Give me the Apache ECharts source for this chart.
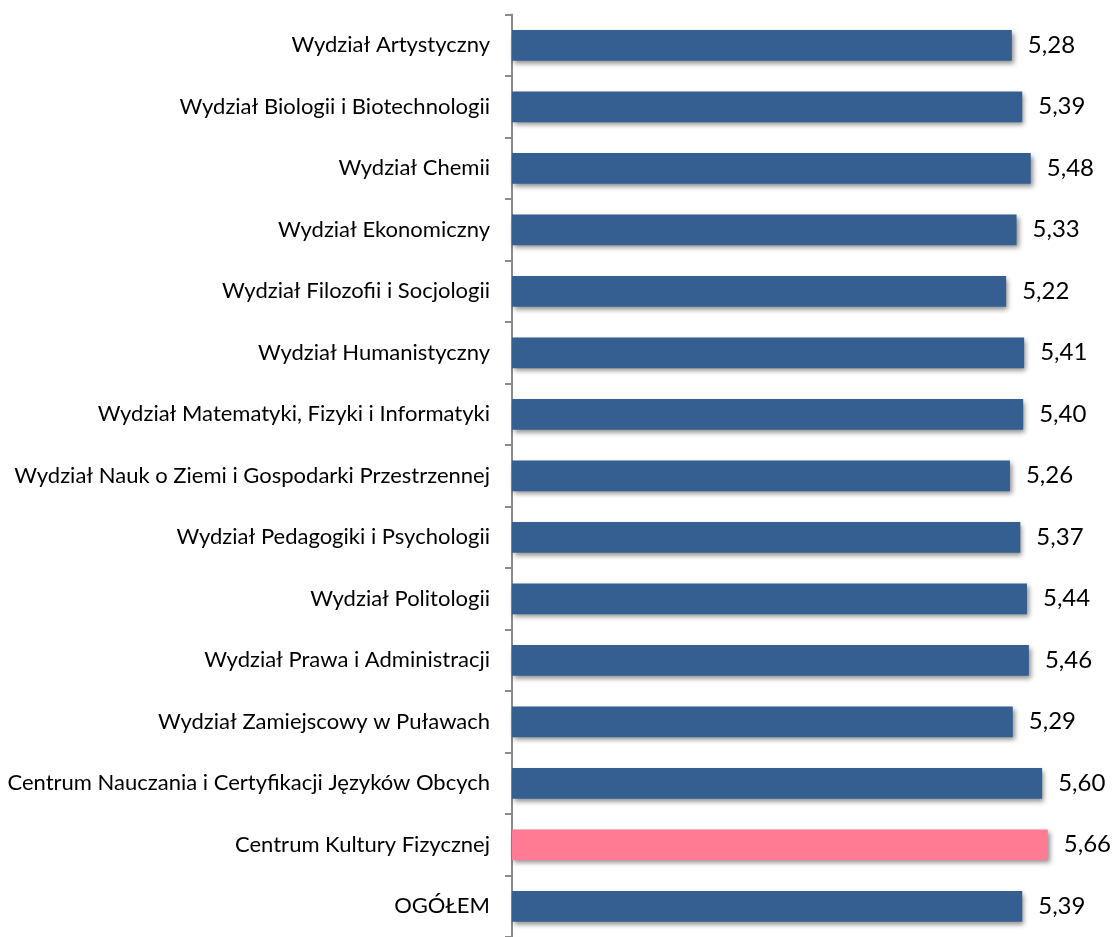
<!DOCTYPE html>
<html><head><meta charset="utf-8">
<script src="https://cdn.jsdelivr.net/npm/echarts@6/dist/echarts.min.js"></script>
<style>html,body{margin:0;padding:0;background:#fff}#c{width:1112px;height:937px}</style>
</head><body><div id="c"></div>
<script>
const categories = [
  "Wydział Artystyczny",
  "Wydział Biologii i Biotechnologii",
  "Wydział Chemii",
  "Wydział Ekonomiczny",
  "Wydział Filozofii i Socjologii",
  "Wydział Humanistyczny",
  "Wydział Matematyki, Fizyki i Informatyki",
  "Wydział Nauk o Ziemi i Gospodarki Przestrzennej",
  "Wydział Pedagogiki i Psychologii",
  "Wydział Politologii",
  "Wydział Prawa i Administracji",
  "Wydział Zamiejscowy w Puławach",
  "Centrum Nauczania i Certyfikacji Języków Obcych",
  "Centrum Kultury Fizycznej",
  "OGÓŁEM"
];
const values = [5.28, 5.39, 5.48, 5.33, 5.22, 5.41, 5.40, 5.26, 5.37, 5.44, 5.46, 5.29, 5.60, 5.66, 5.39];
const highlightIndex = 13;

const chart = echarts.init(document.getElementById('c'), null, {renderer: 'canvas'});
chart.setOption({
  animation: false,
  grid: {left: 512, right: 32, top: 14.5, bottom: -7.5, containLabel: false},
  xAxis: {
    type: 'value', min: 0, max: 6, show: false
  },
  yAxis: {
    type: 'category', data: categories, inverse: true,
    axisLine: {show: true, lineStyle: {color: '#8a8a8a', width: 2}},
    axisTick: {show: true, length: 7, lineStyle: {color: '#8a8a8a', width: 2}},
    axisLabel: {color: '#000', fontFamily: 'Lato', fontSize: 22, margin: 22}
  },
  series: [{
    type: 'bar',
    data: values.map((v, i) => ({
      value: v,
      itemStyle: {color: i === highlightIndex ? '#FF7B94' : '#365F91'}
    })),
    barWidth: '50%',
    itemStyle: {shadowColor: 'rgba(0,0,0,0.45)', shadowBlur: 5, shadowOffsetX: 2, shadowOffsetY: 3},
    label: {
      show: true, position: 'right', distance: 16, color: '#000',
      fontFamily: 'Lato', fontSize: 24,
      formatter: p => p.value.toFixed(2).replace('.', ',')
    }
  }]
});
</script></body></html>
